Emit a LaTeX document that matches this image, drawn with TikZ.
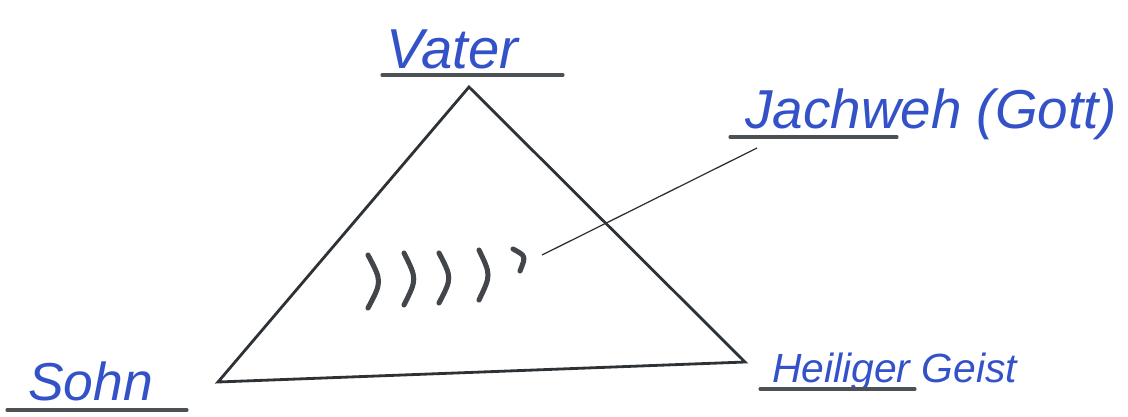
\documentclass[tikz,border=0pt]{standalone}
\usepackage{fontspec}
\setmainfont{Liberation Sans}
\usepackage{xcolor}
\usetikzlibrary{positioning}
\definecolor{inkblue}{RGB}{52,82,200}
\definecolor{pencil}{RGB}{45,50,55}

\begin{document}
\begin{tikzpicture}[
    x=0.025cm, y=-0.025cm,
    handtext/.style={inner sep=0pt, anchor=base west, text=inkblue, font=\itshape\fontsize{38}{38}\selectfont},
    uline/.style={pencil!85, line width=2.2pt, line cap=round},
    edge/.style={pencil, line width=2pt, line join=miter},
    tick/.style={pencil!90, line width=3.6pt, line cap=round},
    pointer/.style={pencil, line width=0.9pt}
]
\useasboundingbox (0,0) rectangle (1128,416);

% Triangle corners
\coordinate (top) at (469,87);
\coordinate (left) at (218,382);
\coordinate (right) at (745,362);
\draw[edge] (top) -- (left) -- (right) -- cycle;

% Labels
\node[handtext, font=\itshape\fontsize{40}{40}\selectfont] (vater) at (386,68) {Vater};
\node[handtext, font=\itshape\fontsize{39}{39}\selectfont] (jachweh) at (745,128) {Jachweh (Gott)};
\node[handtext] (sohn) at (28,400) {Sohn};
\node[handtext, font=\itshape\fontsize{29}{29}\selectfont] (geist) at (772,382) {Heiliger Geist};

% Underlines
\draw[uline] (382,75) -- (563,75);
\draw[uline] (730,137) -- (897,137);
\draw[uline] (7,410) -- (187,410);
\draw[uline] (760,389) -- (915,389);

% Marks inside
\foreach \x/\t/\b/\d in {368/255/308/14, 404/253/305/13, 439/253/303/13, 479/250/300/12}
    \draw[tick] (\x,\t) .. controls (\x+\d,{(\t+\b)/2}) .. (\x,\b);
\draw[tick] (513,249) .. controls (526,256) .. (520,271);

% Pointer to label
\coordinate (tip) at (542,255);
\coordinate (end) at (757,148);
\draw[pointer] (tip) -- (end);

\end{tikzpicture}
\end{document}
